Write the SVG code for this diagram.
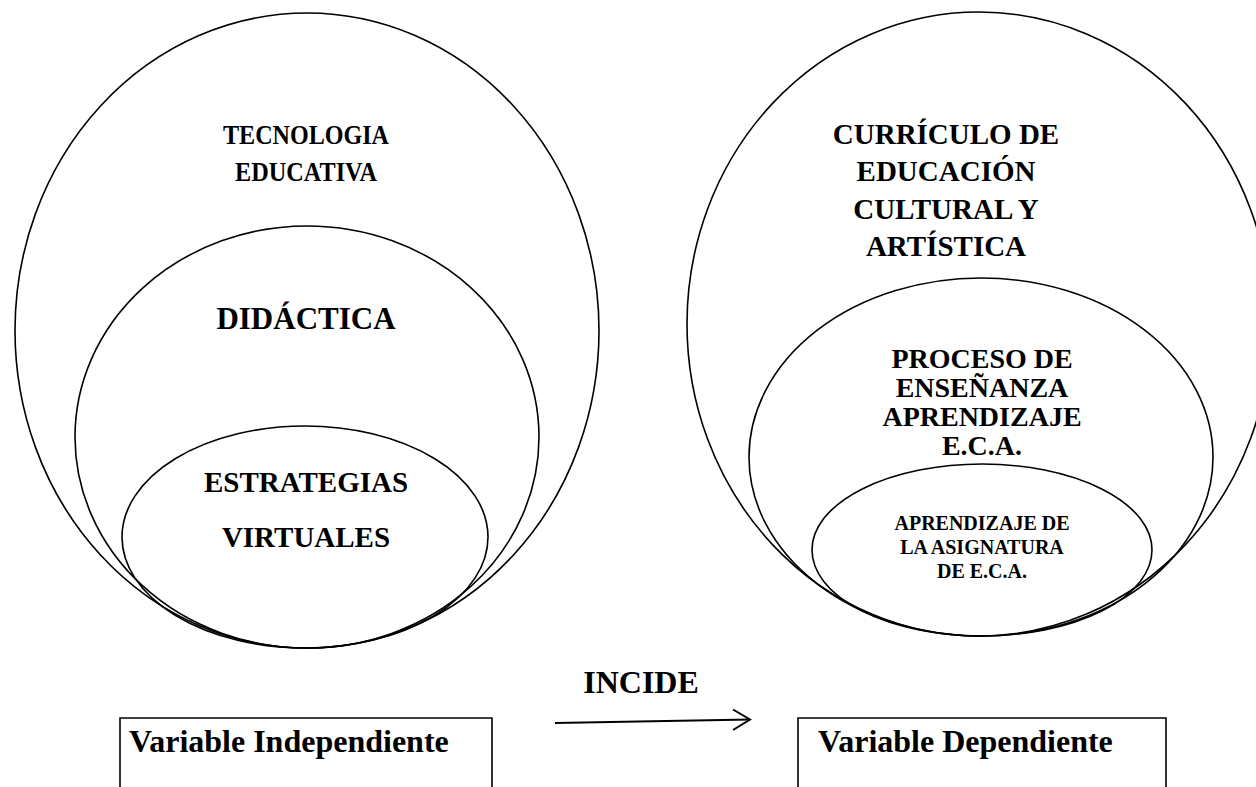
<svg xmlns="http://www.w3.org/2000/svg" width="1256" height="787" viewBox="0 0 1256 787">
<defs>
<style>
.e{fill:none;stroke:#000;stroke-width:1.6}
.t{font-family:"Liberation Serif","Times New Roman",serif;font-weight:bold;fill:#000;text-anchor:middle}
.s{text-anchor:start}
.b{fill:none;stroke:#000;stroke-width:1.6}
</style>
</defs>
<rect width="1256" height="787" fill="#fff"/>
<g id="tecnologia">
<ellipse class="e" cx="307" cy="330.5" rx="292" ry="317.5"/>
<text class="t" x="306" y="144" font-size="27" textLength="166" lengthAdjust="spacingAndGlyphs">TECNOLOGIA</text>
<text class="t" x="306" y="181" font-size="27" textLength="142" lengthAdjust="spacingAndGlyphs">EDUCATIVA</text>
</g>
<g id="didactica">
<ellipse class="e" cx="307" cy="437" rx="232" ry="211"/>
<text class="t" x="306" y="329" font-size="31">DIDÁCTICA</text>
</g>
<g id="estrategias">
<ellipse class="e" cx="305" cy="537" rx="183" ry="111"/>
<text class="t" x="306" y="492" font-size="29">ESTRATEGIAS</text>
<text class="t" x="306" y="547" font-size="29">VIRTUALES</text>
</g>
<g id="curriculo">
<ellipse class="e" cx="979" cy="324" rx="292" ry="312"/>
<text class="t" x="946" y="144" font-size="29">CURRÍCULO DE</text>
<text class="t" x="946" y="181" font-size="29">EDUCACIÓN</text>
<text class="t" x="946" y="219" font-size="29">CULTURAL Y</text>
<text class="t" x="946" y="256" font-size="29">ARTÍSTICA</text>
</g>
<g id="proceso">
<ellipse class="e" cx="981" cy="457" rx="232" ry="179"/>
<text class="t" x="982" y="368" font-size="28">PROCESO DE</text>
<text class="t" x="982" y="397" font-size="28">ENSEÑANZA</text>
<text class="t" x="982" y="426" font-size="28">APRENDIZAJE</text>
<text class="t" x="982" y="455" font-size="28">E.C.A.</text>
</g>
<g id="aprendizaje">
<ellipse class="e" cx="982" cy="550" rx="170" ry="86"/>
<text class="t" x="982" y="530" font-size="20">APRENDIZAJE DE</text>
<text class="t" x="982" y="554" font-size="20">LA ASIGNATURA</text>
<text class="t" x="982" y="578" font-size="20">DE E.C.A.</text>
</g>
<g id="var-independiente">
<path class="b" d="M120 787 V718 H492 V787"/>
<text class="t s" x="129" y="752" font-size="32">Variable Independiente</text>
</g>
<g id="var-dependiente">
<path class="b" d="M798 787 V718 H1166 V787"/>
<text class="t s" x="818" y="752" font-size="32">Variable Dependiente</text>
</g>
<g id="connectors">
<path d="M555 723 L750 719.5" fill="none" stroke="#000" stroke-width="2"/>
<path d="M733 709.5 L750 719.5 L733 730" fill="none" stroke="#000" stroke-width="2"/>
<text class="t" x="641" y="693" font-size="32">INCIDE</text>
</g>
</svg>
